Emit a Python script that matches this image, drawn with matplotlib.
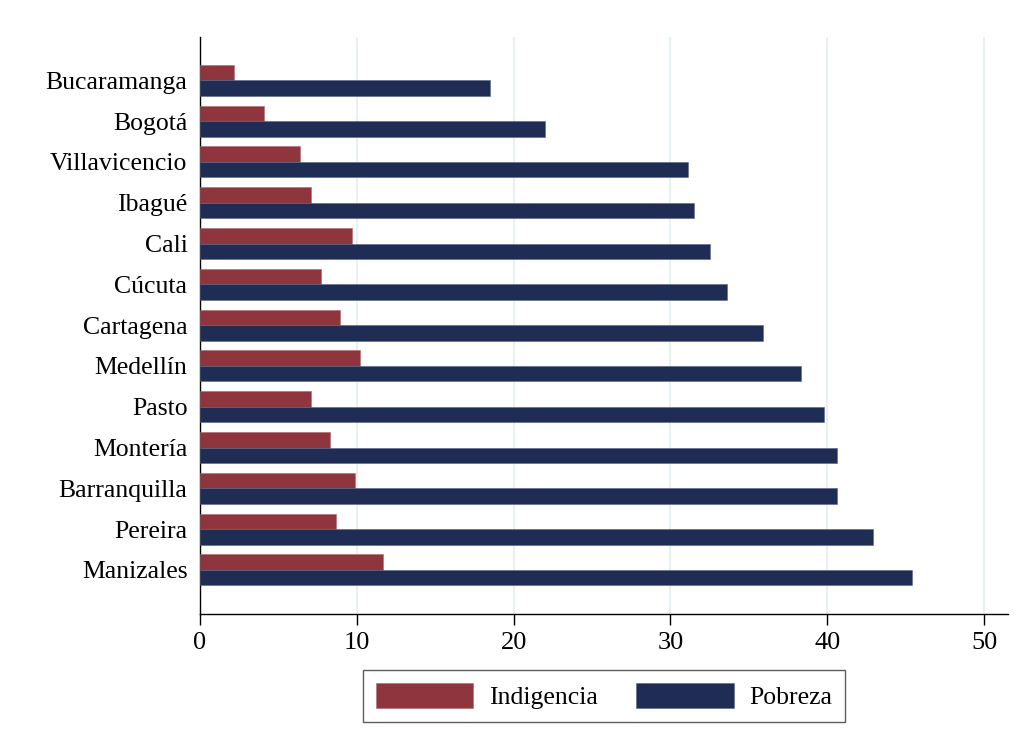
import matplotlib

matplotlib.use("Agg")
import matplotlib.pyplot as plt
import numpy as np

plt.rcParams["font.family"] = ["Liberation Serif", "DejaVu Serif"]

# data (percent)
cities = [
    "Bucaramanga", "Bogotá", "Villavicencio", "Ibagué", "Cali", "Cúcuta",
    "Cartagena", "Medellín", "Pasto", "Montería", "Barranquilla", "Pereira",
    "Manizales",
]
indigencia = [2.2, 4.1, 6.4, 7.1, 9.7, 7.7, 8.9, 10.2, 7.1, 8.3, 9.9, 8.7, 11.7]
pobreza = [18.5, 22.0, 31.1, 31.5, 32.5, 33.6, 35.9, 38.3, 39.8, 40.6, 40.6, 42.9, 45.4]
xticks = [0, 10, 20, 30, 40, 50]

RED = "#8f353d"
NAVY = "#1f2d55"

fig = plt.figure(figsize=(10.24, 7.51), dpi=100)
ax = fig.add_axes([0.1953, 0.1824, 0.7887, 0.7683])

n = len(cities)
y = np.arange(n)[::-1].astype(float)
h = 0.38
ax.barh(y + h / 2, indigencia, height=h, color=RED, edgecolor="#b06a70",
        linewidth=0.4, label="Indigencia", zorder=3)
ax.barh(y - h / 2, pobreza, height=h, color=NAVY, edgecolor="#5a6585",
        linewidth=0.4, label="Pobreza", zorder=3)

ax.set_xlim(0, 51.5)
ax.set_ylim(-1.08, n - 1 + 1.06)
ax.set_xticks(xticks)
ax.set_xticklabels([str(t) for t in xticks], fontsize=19)
ax.set_yticks(y)
ax.set_yticklabels(cities, fontsize=18.5)
ax.tick_params(axis="y", length=0, pad=9)
ax.tick_params(axis="x", length=8, width=1, pad=5)

ax.grid(axis="x", color="#e3eef1", linewidth=1.2, zorder=0)
ax.set_axisbelow(True)
for side in ("top", "right"):
    ax.spines[side].set_visible(False)
for side in ("left", "bottom"):
    ax.spines[side].set_linewidth(1.0)
    ax.spines[side].set_color("black")

leg = ax.legend(
    loc="upper center", bbox_to_anchor=(0.5, -0.075), ncol=2, fontsize=18.5,
    frameon=True, fancybox=False, handlelength=3.8, handleheight=1.1,
    handletextpad=0.6, columnspacing=1.5, borderpad=0.5,
)
leg.get_frame().set_edgecolor("#333333")
leg.get_frame().set_linewidth(1.0)

fig.savefig("out.png", dpi=100)
